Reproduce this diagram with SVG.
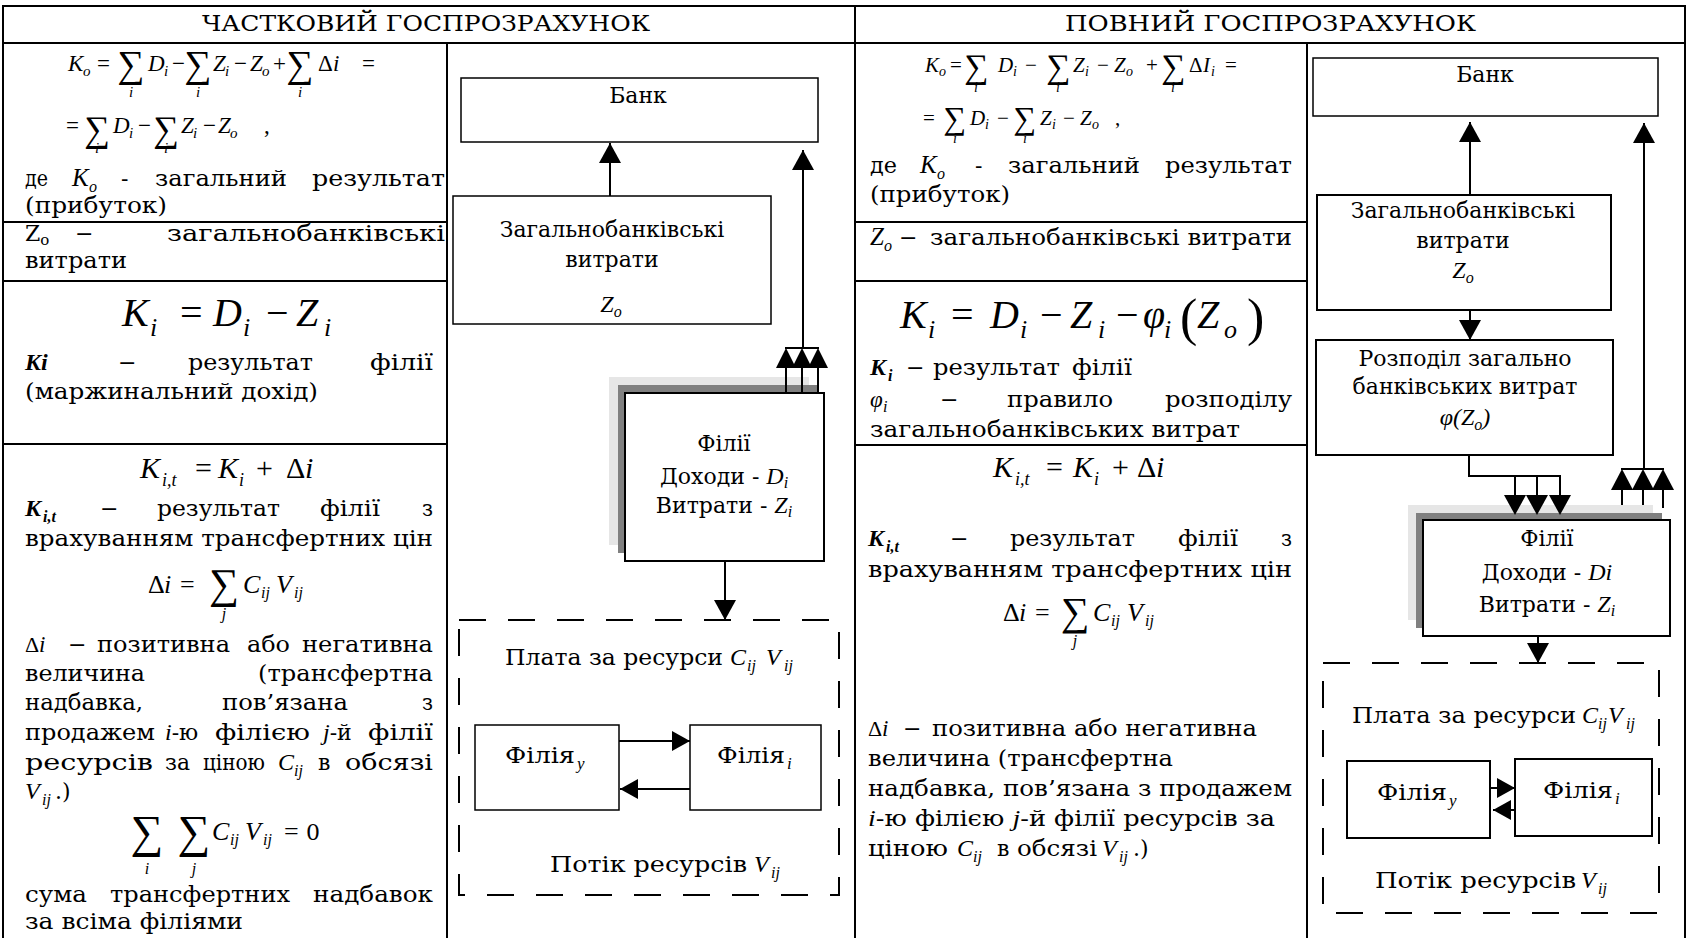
<svg xmlns="http://www.w3.org/2000/svg" width="1687" height="938" viewBox="0 0 1687 938">
<style>
.tx{font-family:"DejaVu Serif","Liberation Serif",serif;font-size:22px;fill:#000}
.mi{font-family:"Liberation Serif",serif;font-style:italic;fill:#000}
.mr{font-family:"Liberation Serif",serif;font-style:normal;fill:#000}
.bi{font-family:"Liberation Serif",serif;font-style:italic;font-weight:bold;fill:#000}
.sg{font-family:"Liberation Serif",serif;font-style:normal;text-anchor:middle;fill:#000}
.ctr{text-anchor:middle}
.grid{stroke:#000;stroke-width:2;fill:none}
.bx{fill:#fff;stroke:#000;stroke-width:1.5}
.bx2{fill:#fff;stroke:#000;stroke-width:2}
.ds{fill:none;stroke:#000;stroke-width:2;stroke-dasharray:27 22}
.ln{stroke:#000;stroke-width:2;fill:none}
.lt{fill:#e6e6e6}
.dk{fill:#808080}
</style>
<defs>
<marker id="ah" markerWidth="20" markerHeight="22" refX="20" refY="11" orient="auto" markerUnits="userSpaceOnUse"><path d="M0,0 L20,11 L0,22 z" fill="#000"/></marker>
<marker id="ahs" markerWidth="18" markerHeight="20" refX="18" refY="10" orient="auto" markerUnits="userSpaceOnUse"><path d="M0,0 L18,10 L0,20 z" fill="#000"/></marker>
</defs>
<rect width="1687" height="938" fill="#fff"/>

<g id="table">
<line class="grid" x1="3" y1="6" x2="1685" y2="6"/>
<line class="grid" x1="3" y1="43" x2="1685" y2="43"/>
<line class="grid" x1="3" y1="5" x2="3" y2="938"/>
<line class="grid" x1="1685" y1="5" x2="1685" y2="938"/>
<line class="grid" x1="855" y1="5" x2="855" y2="938"/>
<line class="grid" x1="447" y1="43" x2="447" y2="938"/>
<line class="grid" x1="1307" y1="43" x2="1307" y2="938"/>
<line class="grid" x1="3" y1="222" x2="447" y2="222"/>
<line class="grid" x1="3" y1="281" x2="447" y2="281"/>
<line class="grid" x1="3" y1="444" x2="447" y2="444"/>
<line class="grid" x1="855" y1="222" x2="1307" y2="222"/>
<line class="grid" x1="855" y1="281" x2="1307" y2="281"/>
<line class="grid" x1="855" y1="445" x2="1307" y2="445"/>
<text class="tx" x="202" y="31" textLength="448" lengthAdjust="spacingAndGlyphs">ЧАСТКОВИЙ ГОСПРОЗРАХУНОК</text>
<text class="tx" x="1065" y="31" textLength="411" lengthAdjust="spacingAndGlyphs">ПОВНИЙ ГОСПРОЗРАХУНОК</text>
</g>

<g id="left-text">
<g font-size="23">
<text class="mi" x="68" y="71">K</text><text class="mi" x="83" y="76" font-size="15">o</text>
<text class="mr" x="97" y="71">=</text>
<text class="sg" x="131" y="77" font-size="38">∑</text><text class="mi ctr" x="131" y="97" font-size="15">i</text>
<text class="mi" x="148" y="71">D</text><text class="mi" x="164" y="76" font-size="15">i</text>
<text class="mr" x="172" y="71">−</text>
<text class="sg" x="198" y="77" font-size="38">∑</text><text class="mi ctr" x="198" y="97" font-size="15">i</text>
<text class="mi" x="213" y="71">Z</text><text class="mi" x="225" y="76" font-size="15">i</text>
<text class="mr" x="234" y="71">−</text>
<text class="mi" x="250" y="71">Z</text><text class="mi" x="262" y="76" font-size="15">o</text>
<text class="mr" x="273" y="71">+</text>
<text class="sg" x="300" y="77" font-size="38">∑</text><text class="mi ctr" x="300" y="97" font-size="15">i</text>
<text class="mr" x="318" y="71">Δ</text><text class="mi" x="333" y="71">i</text>
<text class="mr" x="362" y="71">=</text>
<text class="mr" x="66" y="133">=</text>
<text class="sg" x="97" y="141" font-size="36">∑</text><text class="mi ctr" x="97" y="153" font-size="15">i</text>
<text class="mi" x="113" y="133">D</text><text class="mi" x="129" y="138" font-size="15">i</text>
<text class="mr" x="138" y="133">−</text>
<text class="sg" x="166" y="141" font-size="36">∑</text><text class="mi ctr" x="166" y="153" font-size="15">i</text>
<text class="mi" x="181" y="133">Z</text><text class="mi" x="193" y="138" font-size="15">i</text>
<text class="mr" x="203" y="133">−</text>
<text class="mi" x="218" y="133">Z</text><text class="mi" x="230" y="138" font-size="15">o</text>
<text class="mr" x="264" y="133">,</text>
</g>
<text class="tx" x="25" y="186" textLength="23" lengthAdjust="spacingAndGlyphs">де</text>
<text class="mi" x="72" y="186" font-size="25">K</text><text class="mi" x="89" y="192" font-size="16">o</text>
<text class="tx" x="121" y="186">-</text>
<text class="tx" x="155" y="186" textLength="132" lengthAdjust="spacingAndGlyphs">загальний</text>
<text class="tx" x="312" y="186" textLength="133" lengthAdjust="spacingAndGlyphs">результат</text>
<text class="tx" x="25" y="213" textLength="142" lengthAdjust="spacingAndGlyphs">(прибуток)</text>

<text class="tx" x="25" y="241">Z<tspan font-size="15" dy="4">o</tspan></text>
<text class="tx" x="75" y="241">−</text>
<text class="tx" x="167" y="241" textLength="278" lengthAdjust="spacingAndGlyphs">загальнобанківські</text>
<text class="tx" x="25" y="268" textLength="102" lengthAdjust="spacingAndGlyphs">витрати</text>

<text class="mi" x="122" y="326" font-size="40">K</text><text class="mi" x="150" y="336" font-size="26">i</text>
<text class="mr" x="180" y="326" font-size="40">=</text>
<text class="mi" x="213" y="326" font-size="40">D</text><text class="mi" x="243" y="336" font-size="26">i</text>
<text class="mr" x="266" y="326" font-size="40">−</text>
<text class="mi" x="296" y="326" font-size="40">Z</text><text class="mi" x="324" y="336" font-size="26">i</text>

<text class="bi" x="25" y="370" font-size="24">Ki</text>
<text class="tx" x="118" y="370">−</text>
<text class="tx" x="188" y="370" textLength="125" lengthAdjust="spacingAndGlyphs">результат</text>
<text class="tx" x="370" y="370" textLength="63" lengthAdjust="spacingAndGlyphs">філії</text>
<text class="tx" x="25" y="399" textLength="293" lengthAdjust="spacingAndGlyphs">(маржинальний дохід)</text>

<text class="mi" x="140" y="478" font-size="30">K</text><text class="mi" x="162" y="486" font-size="18">i,t</text>
<text class="mr" x="195" y="478" font-size="30">=</text>
<text class="mi" x="218" y="478" font-size="30">K</text><text class="mi" x="239" y="486" font-size="18">i</text>
<text class="mr" x="256" y="478" font-size="30">+</text>
<text class="mr" x="286" y="478" font-size="30">Δ</text><text class="mi" x="305" y="478" font-size="30">i</text>

<text class="bi" x="25" y="516" font-size="24">K</text><text class="bi" x="43" y="522" font-size="16">i,t</text>
<text class="tx" x="100" y="516">−</text>
<text class="tx" x="157" y="516" textLength="123" lengthAdjust="spacingAndGlyphs">результат</text>
<text class="tx" x="320" y="516" textLength="60" lengthAdjust="spacingAndGlyphs">філії</text>
<text class="tx" x="422" y="516" textLength="11" lengthAdjust="spacingAndGlyphs">з</text>
<text class="tx" x="25" y="546" textLength="408" lengthAdjust="spacingAndGlyphs">врахуванням трансфертних цін</text>

<text class="mr" x="148" y="593" font-size="26">Δ</text><text class="mi" x="164" y="593" font-size="26">i</text>
<text class="mr" x="180" y="593" font-size="26">=</text>
<text class="sg" x="224" y="598" font-size="42">∑</text><text class="mi ctr" x="224" y="619" font-size="16">j</text>
<text class="mi" x="243" y="593" font-size="26">C</text><text class="mi" x="261" y="598" font-size="16">ij</text>
<text class="mi" x="276" y="593" font-size="26">V</text><text class="mi" x="294" y="598" font-size="16">ij</text>

<text class="mr" x="25" y="652" font-size="22">Δ</text><text class="mi" x="39" y="652" font-size="23">i</text>
<text class="tx" x="68" y="652">−</text>
<text class="tx" x="97" y="652" textLength="133" lengthAdjust="spacingAndGlyphs">позитивна</text>
<text class="tx" x="247" y="652" textLength="43" lengthAdjust="spacingAndGlyphs">або</text>
<text class="tx" x="302" y="652" textLength="131" lengthAdjust="spacingAndGlyphs">негативна</text>
<text class="tx" x="25" y="681" textLength="120" lengthAdjust="spacingAndGlyphs">величина</text>
<text class="tx" x="258" y="681" textLength="175" lengthAdjust="spacingAndGlyphs">(трансфертна</text>
<text class="tx" x="25" y="710" textLength="118" lengthAdjust="spacingAndGlyphs">надбавка,</text>
<text class="tx" x="222" y="710" textLength="126" lengthAdjust="spacingAndGlyphs">пов’язана</text>
<text class="tx" x="422" y="710" textLength="11" lengthAdjust="spacingAndGlyphs">з</text>
<text class="tx" x="25" y="740" textLength="130" lengthAdjust="spacingAndGlyphs">продажем</text>
<text class="tx" x="165" y="740"><tspan class="mi" font-size="24">i</tspan>-ю</text>
<text class="tx" x="215" y="740" textLength="95" lengthAdjust="spacingAndGlyphs">філією</text>
<text class="tx" x="323" y="740"><tspan class="mi" font-size="24">j</tspan>-й</text>
<text class="tx" x="368" y="740" textLength="65" lengthAdjust="spacingAndGlyphs">філії</text>
<text class="tx" x="25" y="770" textLength="128" lengthAdjust="spacingAndGlyphs">ресурсів</text>
<text class="tx" x="165" y="770" textLength="25" lengthAdjust="spacingAndGlyphs">за</text>
<text class="tx" x="203" y="770" textLength="62" lengthAdjust="spacingAndGlyphs">ціною</text>
<text class="mi" x="278" y="770" font-size="24">C</text><text class="mi" x="294" y="776" font-size="16">ij</text>
<text class="tx" x="318" y="770">в</text>
<text class="tx" x="345" y="770" textLength="88" lengthAdjust="spacingAndGlyphs">обсязі</text>
<text class="mi" x="25" y="799" font-size="24">V</text><text class="mi" x="42" y="805" font-size="16">ij</text><text class="tx" x="55" y="799">.)</text>

<text class="sg" x="147" y="847" font-size="46">∑</text><text class="mi ctr" x="147" y="874" font-size="16">i</text>
<text class="sg" x="194" y="847" font-size="46">∑</text><text class="mi ctr" x="194" y="874" font-size="16">j</text>
<text class="mi" x="212" y="840" font-size="26">C</text><text class="mi" x="230" y="845" font-size="16">ij</text>
<text class="mi" x="245" y="840" font-size="26">V</text><text class="mi" x="263" y="845" font-size="16">ij</text>
<text class="mr" x="284" y="840" font-size="26">=</text>
<text class="tx" x="306" y="840" font-size="24">0</text>

<text class="tx" x="25" y="902" textLength="62" lengthAdjust="spacingAndGlyphs">сума</text>
<text class="tx" x="110" y="902" textLength="180" lengthAdjust="spacingAndGlyphs">трансфертних</text>
<text class="tx" x="313" y="902" textLength="120" lengthAdjust="spacingAndGlyphs">надбавок</text>
<text class="tx" x="25" y="929" textLength="218" lengthAdjust="spacingAndGlyphs">за всіма філіями</text>
</g>

<g id="right-text">
<g font-size="21">
<text class="mi" x="925" y="72">K</text><text class="mi" x="939" y="76" font-size="14">o</text>
<text class="mr" x="950" y="72">=</text>
<text class="sg" x="976" y="78" font-size="34">∑</text><text class="mi ctr" x="976" y="92" font-size="14">i</text>
<text class="mi" x="998" y="72">D</text><text class="mi" x="1013" y="76" font-size="14">i</text>
<text class="mr" x="1025" y="72">−</text>
<text class="sg" x="1058" y="78" font-size="34">∑</text><text class="mi ctr" x="1058" y="92" font-size="14">i</text>
<text class="mi" x="1073" y="72">Z</text><text class="mi" x="1085" y="76" font-size="14">i</text>
<text class="mr" x="1097" y="72">−</text>
<text class="mi" x="1114" y="72">Z</text><text class="mi" x="1126" y="76" font-size="14">o</text>
<text class="mr" x="1146" y="72">+</text>
<text class="sg" x="1173" y="78" font-size="34">∑</text><text class="mi ctr" x="1173" y="92" font-size="14">i</text>
<text class="mr" x="1189" y="72">Δ</text><text class="mi" x="1203" y="72">I</text><text class="mi" x="1211" y="76" font-size="14">i</text>
<text class="mr" x="1225" y="72">=</text>
<text class="mr" x="923" y="125">=</text>
<text class="sg" x="955" y="129" font-size="32">∑</text><text class="mi ctr" x="955" y="143" font-size="14">i</text>
<text class="mi" x="970" y="125">D</text><text class="mi" x="985" y="129" font-size="14">i</text>
<text class="mr" x="997" y="125">−</text>
<text class="sg" x="1025" y="129" font-size="32">∑</text><text class="mi ctr" x="1025" y="143" font-size="14">i</text>
<text class="mi" x="1040" y="125">Z</text><text class="mi" x="1052" y="129" font-size="14">i</text>
<text class="mr" x="1063" y="125">−</text>
<text class="mi" x="1080" y="125">Z</text><text class="mi" x="1092" y="129" font-size="14">o</text>
<text class="mr" x="1115" y="125">,</text>
</g>
<text class="tx" x="870" y="173" textLength="27" lengthAdjust="spacingAndGlyphs">де</text>
<text class="mi" x="920" y="173" font-size="25">K</text><text class="mi" x="937" y="179" font-size="16">o</text>
<text class="tx" x="975" y="173">-</text>
<text class="tx" x="1008" y="173" textLength="132" lengthAdjust="spacingAndGlyphs">загальний</text>
<text class="tx" x="1165" y="173" textLength="127" lengthAdjust="spacingAndGlyphs">результат</text>
<text class="tx" x="870" y="202" textLength="140" lengthAdjust="spacingAndGlyphs">(прибуток)</text>

<text class="mi" x="870" y="245" font-size="25">Z</text><text class="mi" x="884" y="251" font-size="16">o</text>
<text class="tx" x="899" y="245">−</text>
<text class="tx" x="930" y="245" textLength="362" lengthAdjust="spacingAndGlyphs">загальнобанківські витрати</text>

<text class="mi" x="900" y="328" font-size="40">K</text><text class="mi" x="928" y="338" font-size="26">i</text>
<text class="mr" x="951" y="328" font-size="40">=</text>
<text class="mi" x="990" y="328" font-size="40">D</text><text class="mi" x="1020" y="338" font-size="26">i</text>
<text class="mr" x="1040" y="328" font-size="40">−</text>
<text class="mi" x="1070" y="328" font-size="40">Z</text><text class="mi" x="1098" y="338" font-size="26">i</text>
<text class="mr" x="1116" y="328" font-size="40">−</text>
<text class="mi" x="1143" y="328" font-size="40">φ</text><text class="mi" x="1164" y="338" font-size="26">i</text>
<text class="mr" x="1180" y="335" font-size="52">(</text>
<text class="mi" x="1197" y="328" font-size="40">Z</text><text class="mi" x="1224" y="338" font-size="26">o</text>
<text class="mr" x="1247" y="335" font-size="52">)</text>

<text class="bi" x="870" y="375" font-size="24">K</text><text class="bi" x="888" y="381" font-size="16">i</text>
<text class="tx" x="906" y="375">−</text>
<text class="tx" x="933" y="375" textLength="127" lengthAdjust="spacingAndGlyphs">результат</text>
<text class="tx" x="1072" y="375" textLength="60" lengthAdjust="spacingAndGlyphs">філії</text>
<text class="mi" x="870" y="407" font-size="23">φ</text><text class="mi" x="883" y="412" font-size="16">i</text>
<text class="tx" x="940" y="407">−</text>
<text class="tx" x="1007" y="407" textLength="106" lengthAdjust="spacingAndGlyphs">правило</text>
<text class="tx" x="1165" y="407" textLength="127" lengthAdjust="spacingAndGlyphs">розподілу</text>
<text class="tx" x="870" y="437" textLength="370" lengthAdjust="spacingAndGlyphs">загальнобанківських витрат</text>

<text class="mi" x="993" y="477" font-size="30">K</text><text class="mi" x="1015" y="485" font-size="18">i,t</text>
<text class="mr" x="1046" y="477" font-size="30">=</text>
<text class="mi" x="1073" y="477" font-size="30">K</text><text class="mi" x="1094" y="485" font-size="18">i</text>
<text class="mr" x="1112" y="477" font-size="30">+</text>
<text class="mr" x="1137" y="477" font-size="30">Δ</text><text class="mi" x="1156" y="477" font-size="30">i</text>

<text class="bi" x="868" y="546" font-size="24">K</text><text class="bi" x="886" y="552" font-size="16">i,t</text>
<text class="tx" x="950" y="546">−</text>
<text class="tx" x="1010" y="546" textLength="125" lengthAdjust="spacingAndGlyphs">результат</text>
<text class="tx" x="1178" y="546" textLength="60" lengthAdjust="spacingAndGlyphs">філії</text>
<text class="tx" x="1281" y="546" textLength="11" lengthAdjust="spacingAndGlyphs">з</text>
<text class="tx" x="868" y="577" textLength="424" lengthAdjust="spacingAndGlyphs">врахуванням трансфертних цін</text>

<text class="mr" x="1003" y="621" font-size="26">Δ</text><text class="mi" x="1019" y="621" font-size="26">i</text>
<text class="mr" x="1035" y="621" font-size="26">=</text>
<text class="sg" x="1075" y="625" font-size="40">∑</text><text class="mi ctr" x="1075" y="646" font-size="16">j</text>
<text class="mi" x="1093" y="621" font-size="26">C</text><text class="mi" x="1111" y="626" font-size="16">ij</text>
<text class="mi" x="1127" y="621" font-size="26">V</text><text class="mi" x="1145" y="626" font-size="16">ij</text>

<text class="mr" x="868" y="736" font-size="22">Δ</text><text class="mi" x="882" y="736" font-size="23">i</text>
<text class="tx" x="903" y="736">−</text>
<text class="tx" x="932" y="736" textLength="325" lengthAdjust="spacingAndGlyphs">позитивна або негативна</text>
<text class="tx" x="868" y="766" textLength="305" lengthAdjust="spacingAndGlyphs">величина (трансфертна</text>
<text class="tx" x="868" y="796" textLength="424" lengthAdjust="spacingAndGlyphs">надбавка, пов’язана з продажем</text>
<text class="tx" x="868" y="826" textLength="407" lengthAdjust="spacingAndGlyphs"><tspan class="mi" font-size="24">i</tspan>-ю філією <tspan class="mi" font-size="24">j</tspan>-й філії ресурсів за</text>
<text class="tx" x="868" y="856" textLength="80" lengthAdjust="spacingAndGlyphs">ціною</text>
<text class="mi" x="957" y="856" font-size="24">C</text><text class="mi" x="973" y="862" font-size="16">ij</text>
<text class="tx" x="997" y="856">в</text>
<text class="tx" x="1017" y="856" textLength="80" lengthAdjust="spacingAndGlyphs">обсязі</text>
<text class="mi" x="1102" y="856" font-size="24">V</text><text class="mi" x="1119" y="862" font-size="16">ij</text><text class="tx" x="1133" y="856">.)</text>
</g>

<g id="connectors">
<line class="ln" x1="610" y1="196" x2="610" y2="143" marker-end="url(#ah)"/>
<line class="ln" x1="803" y1="348" x2="803" y2="150" marker-end="url(#ah)"/>
<line class="ln" x1="785" y1="348" x2="819" y2="348"/>
<line class="ln" x1="725" y1="561" x2="725" y2="620" marker-end="url(#ah)"/>
<line class="ln" x1="619" y1="741" x2="690" y2="741" marker-end="url(#ahs)"/>
<line class="ln" x1="690" y1="789" x2="620" y2="789" marker-end="url(#ahs)"/>
<line class="ln" x1="1470" y1="195" x2="1470" y2="122" marker-end="url(#ah)"/>
<line class="ln" x1="1644" y1="469" x2="1644" y2="123" marker-end="url(#ah)"/>
<line class="ln" x1="1470" y1="310" x2="1470" y2="340" marker-end="url(#ah)"/>
<polyline class="ln" points="1469,455 1469,476 1561,476"/>
<line class="ln" x1="1621" y1="469" x2="1664" y2="469"/>
<line class="ln" x1="1622" y1="490" x2="1622" y2="508"/>
<line class="ln" x1="1643" y1="490" x2="1643" y2="508"/>
<line class="ln" x1="1663" y1="490" x2="1663" y2="508"/>
<line class="ln" x1="1538" y1="636" x2="1538" y2="663" marker-end="url(#ah)"/>
<line class="ln" x1="1490" y1="788" x2="1515" y2="788" marker-end="url(#ahs)"/>
<line class="ln" x1="1515" y1="810" x2="1493" y2="810" marker-end="url(#ahs)"/>
</g>

<g id="bank-left">
<rect class="bx" x="461" y="78" width="357" height="64"/>
<text class="tx ctr" x="638" y="103">Банк</text>
</g>
<g id="overhead-left">
<rect class="bx" x="453" y="196" width="318" height="128"/>
<text class="tx ctr" x="612" y="237">Загальнобанківські</text>
<text class="tx ctr" x="612" y="267">витрати</text>
<text class="mi ctr" x="611" y="312" font-size="24">Z<tspan font-size="16" dy="5">o</tspan></text>
</g>
<g id="branches-left">
<rect class="lt" x="609" y="377" width="200" height="168"/>
<rect class="dk" x="618" y="385" width="199" height="168"/>
<rect class="bx2" x="625" y="393" width="199" height="168"/>
<text class="tx ctr" x="724" y="451">Філії</text>
<text class="tx ctr" x="724" y="484">Доходи - <tspan class="mi" font-size="24">D</tspan><tspan class="mi" font-size="16" dy="4">i</tspan></text>
<text class="tx ctr" x="724" y="513">Витрати - <tspan class="mi" font-size="24">Z</tspan><tspan class="mi" font-size="16" dy="4">i</tspan></text>
</g>
<g id="branch-arrows-left">
<line class="ln" x1="786" y1="366" x2="786" y2="393"/>
<line class="ln" x1="802" y1="366" x2="802" y2="393"/>
<line class="ln" x1="818" y1="366" x2="818" y2="393"/>
<polygon points="786,348 776,368 796,368" fill="#000"/>
<polygon points="802,348 792,368 812,368" fill="#000"/>
<polygon points="818,348 808,368 828,368" fill="#000"/>
</g>
<g id="resources-left">
<rect class="ds" x="459" y="620" width="380" height="275"/>
<text class="tx" x="505" y="665" textLength="218" lengthAdjust="spacingAndGlyphs">Плата за ресурси</text>
<text class="mi" x="730" y="665" font-size="24">C</text><text class="mi" x="747" y="671" font-size="16">ij</text>
<text class="mi" x="766" y="665" font-size="24">V</text><text class="mi" x="784" y="671" font-size="16">ij</text>
<text class="tx" x="550" y="872" textLength="197" lengthAdjust="spacingAndGlyphs">Потік ресурсів</text>
<text class="mi" x="754" y="872" font-size="24">V</text><text class="mi" x="771" y="878" font-size="16">ij</text>
</g>
<g id="branch-y-left">
<rect class="bx" x="475" y="725" width="144" height="85"/>
<text class="tx" x="505" y="763" textLength="70" lengthAdjust="spacingAndGlyphs">Філія</text><text class="mi" x="577" y="769" font-size="17">y</text>
</g>
<g id="branch-i-left">
<rect class="bx" x="690" y="725" width="131" height="85"/>
<text class="tx" x="717" y="763" textLength="68" lengthAdjust="spacingAndGlyphs">Філія</text><text class="mi" x="787" y="769" font-size="17">i</text>
</g>

<g id="bank-right">
<rect class="bx" x="1313" y="58" width="345" height="58"/>
<text class="tx ctr" x="1485" y="82">Банк</text>
</g>
<g id="overhead-right">
<rect class="bx2" x="1317" y="195" width="294" height="115"/>
<text class="tx ctr" x="1463" y="218">Загальнобанківські</text>
<text class="tx ctr" x="1463" y="248">витрати</text>
<text class="mi ctr" x="1463" y="278" font-size="24">Z<tspan font-size="16" dy="5">o</tspan></text>
</g>
<g id="allocation-right">
<rect class="bx2" x="1316" y="340" width="297" height="115"/>
<text class="tx ctr" x="1465" y="366">Розподіл загально</text>
<text class="tx ctr" x="1465" y="394">банківських витрат</text>
<text class="mi ctr" x="1465" y="425" font-size="24">φ(Z<tspan font-size="16" dy="5">o</tspan><tspan dy="-5">)</tspan></text>
</g>
<g id="branches-right">
<rect class="lt" x="1408" y="505" width="245" height="115"/>
<rect class="dk" x="1416" y="513" width="246" height="115"/>
<rect class="bx2" x="1423" y="520" width="247" height="116"/>
<text class="tx ctr" x="1547" y="546">Філії</text>
<text class="tx ctr" x="1547" y="580">Доходи - <tspan class="mi" font-size="24">Di</tspan></text>
<text class="tx ctr" x="1547" y="612">Витрати - <tspan class="mi" font-size="24">Z</tspan><tspan class="mi" font-size="16" dy="4">i</tspan></text>
</g>
<g id="branch-arrows-right">
<line class="ln" x1="1515" y1="475" x2="1515" y2="497"/>
<line class="ln" x1="1537" y1="475" x2="1537" y2="497"/>
<line class="ln" x1="1560" y1="475" x2="1560" y2="497"/>
<polygon points="1515,515 1504,495 1526,495" fill="#000"/>
<polygon points="1537,515 1526,495 1548,495" fill="#000"/>
<polygon points="1560,515 1549,495 1571,495" fill="#000"/>
<polygon points="1622,469 1611,490 1633,490" fill="#000"/>
<polygon points="1643,469 1632,490 1654,490" fill="#000"/>
<polygon points="1663,469 1652,490 1674,490" fill="#000"/>
</g>
<g id="resources-right">
<rect class="ds" x="1323" y="663" width="336" height="250"/>
<text class="tx" x="1352" y="723" textLength="224" lengthAdjust="spacingAndGlyphs">Плата за ресурси</text>
<text class="mi" x="1582" y="723" font-size="24">C</text><text class="mi" x="1598" y="729" font-size="16">ij</text>
<text class="mi" x="1608" y="723" font-size="24">V</text><text class="mi" x="1626" y="729" font-size="16">ij</text>
<text class="tx" x="1375" y="888" textLength="201" lengthAdjust="spacingAndGlyphs">Потік ресурсів</text>
<text class="mi" x="1581" y="888" font-size="24">V</text><text class="mi" x="1598" y="894" font-size="16">ij</text>
</g>
<g id="branch-y-right">
<rect class="bx2" x="1347" y="761" width="143" height="77"/>
<text class="tx" x="1377" y="800" textLength="70" lengthAdjust="spacingAndGlyphs">Філія</text><text class="mi" x="1449" y="806" font-size="17">y</text>
</g>
<g id="branch-i-right">
<rect class="bx2" x="1515" y="759" width="137" height="77"/>
<text class="tx" x="1543" y="798" textLength="70" lengthAdjust="spacingAndGlyphs">Філія</text><text class="mi" x="1615" y="804" font-size="17">i</text>
</g>
</svg>
